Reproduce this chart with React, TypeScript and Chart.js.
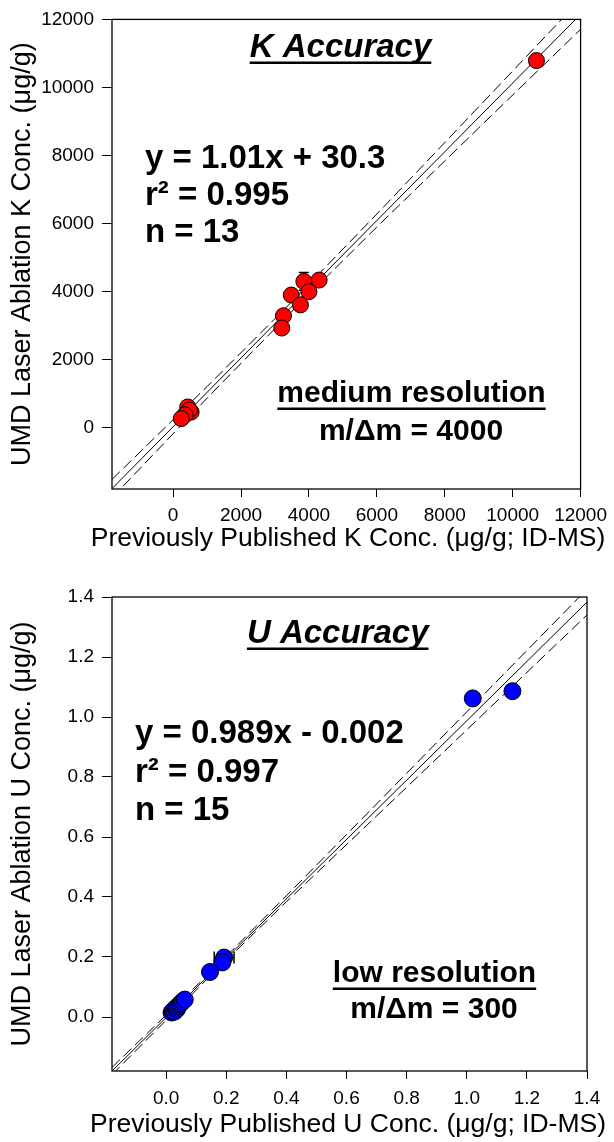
import React, { useEffect, useRef } from "react";
import { Chart, registerables } from "chart.js";

Chart.register(...registerables);

const FONT = "'Liberation Sans', Arial, Helvetica, sans-serif";

// ---------------- K panel data ----------------
const kPublished = [10700, 4300, 3850, 4000, 3480, 3750, 3250, 3200, 430, 530, 480, 350, 240];
const kLaser = [10790, 4340, 4300, 4000, 3900, 3610, 3290, 2930, 610, 460, 520, 380, 270];
const kLaserErr = [0, 0, 260, 0, 0, 0, 0, 0, 0, 0, 0, 0, 0];
const kPublishedErr = [0, 0, 0, 0, 0, 0, 0, 0, 0, 0, 0, 0, 0];
const kFitX = [-1800, 12000];
const kFitY = [-1788, 12150];
const kBandX = [-1800, 1000, 3500, 6000, 9000, 12000];
const kBandUpper = [-1518, 1210, 3705, 6280, 9430, 12590];
const kBandLower = [-2058, 870, 3425, 5900, 8810, 11710];
const kTicks = [0, 2000, 4000, 6000, 8000, 10000, 12000];
const kTickLabels = ["0", "2000", "4000", "6000", "8000", "10000", "12000"];
const kXTitle = "Previously Published K Conc. (\u03BCg/g; ID-MS)";
const kYTitle = "UMD Laser Ablation K Conc. (\u03BCg/g)";

// ---------------- U panel data ----------------
const uPublished = [1.02, 1.152, 0.193, 0.187, 0.146, 0.018, 0.022, 0.028, 0.032, 0.036, 0.04, 0.045, 0.05, 0.055, 0.062];
const uLaser = [1.062, 1.086, 0.198, 0.182, 0.15, 0.015, 0.02, 0.018, 0.03, 0.026, 0.035, 0.042, 0.046, 0.052, 0.058];
const uLaserErr = [0, 0, 0, 0, 0, 0, 0, 0, 0, 0, 0, 0, 0, 0, 0];
const uPublishedErr = [0, 0, 0.033, 0, 0, 0, 0, 0, 0, 0, 0, 0, 0, 0, 0];
const uFitX = [-0.18, 1.4];
const uFitY = [-0.18, 1.383];
const uBandX = [-0.18, 0.15, 0.4, 0.7, 1.0, 1.4];
const uBandUpper = [-0.168, 0.152, 0.404, 0.71, 1.017, 1.426];
const uBandLower = [-0.192, 0.14, 0.384, 0.67, 0.957, 1.34];
const uTicks = [0, 0.2, 0.4, 0.6, 0.8, 1.0, 1.2, 1.4];
const uTickLabels = ["0.0", "0.2", "0.4", "0.6", "0.8", "1.0", "1.2", "1.4"];
const uXTitle = "Previously Published U Conc. (\u03BCg/g; ID-MS)";
const uYTitle = "UMD Laser Ablation U Conc. (\u03BCg/g)";

type Ann = {
  text: string;
  x: number;
  y: number;
  font: string;
  align: CanvasTextAlign;
  underline?: { offset: number; thickness: number };
};

type PanelProps = {
  width: number;
  height: number;
  padTop: number;
  color: string;
  radius: number;
  xs: number[];
  ys: number[];
  xErr: number[];
  yErr: number[];
  fitX: number[];
  fitY: number[];
  bandX: number[];
  bandUpper: number[];
  bandLower: number[];
  min: number;
  max: number;
  ticks: number[];
  tickLabels: string[];
  yTitle: string;
  tickPadX: number;
  annotations: Ann[];
};

const pts = (xs: number[], ys: number[]) => xs.map((x, i) => ({ x, y: ys[i] }));

function makeConfig(p: PanelProps): any {
  const framePlugin = {
    id: "frame",
    afterDatasetsDraw(chart: any) {
      const { ctx, chartArea } = chart;
      ctx.save();
      ctx.strokeStyle = "#000";
      ctx.lineWidth = 1.3;
      ctx.strokeRect(chartArea.left, chartArea.top, chartArea.right - chartArea.left, chartArea.bottom - chartArea.top);
      ctx.restore();
    },
  };
  const errorPlugin = {
    id: "errorBars",
    beforeDatasetDraw(chart: any, args: any) {
      if (args.index !== 0) return;
      const { ctx, scales } = chart;
      const sx = scales.x;
      const sy = scales.y;
      ctx.save();
      ctx.strokeStyle = "#000";
      ctx.lineWidth = 1.5;
      p.xs.forEach((x, i) => {
        const y = p.ys[i];
        const cx = sx.getPixelForValue(x);
        const cy = sy.getPixelForValue(y);
        if (p.yErr[i]) {
          const t = sy.getPixelForValue(y + p.yErr[i]);
          const b = sy.getPixelForValue(y - p.yErr[i]);
          ctx.beginPath();
          ctx.moveTo(cx, t);
          ctx.lineTo(cx, b);
          ctx.moveTo(cx - 5, t);
          ctx.lineTo(cx + 5, t);
          ctx.moveTo(cx - 5, b);
          ctx.lineTo(cx + 5, b);
          ctx.stroke();
        }
        if (p.xErr[i]) {
          const l = sx.getPixelForValue(x - p.xErr[i]);
          const r = sx.getPixelForValue(x + p.xErr[i]);
          ctx.beginPath();
          ctx.moveTo(l, cy);
          ctx.lineTo(r, cy);
          ctx.moveTo(l, cy - 6);
          ctx.lineTo(l, cy + 6);
          ctx.moveTo(r, cy - 6);
          ctx.lineTo(r, cy + 6);
          ctx.stroke();
        }
      });
      ctx.restore();
    },
  };
  const textPlugin = {
    id: "annotations",
    afterDraw(chart: any) {
      const ctx = chart.ctx;
      ctx.save();
      ctx.fillStyle = "#000";
      ctx.textBaseline = "alphabetic";
      for (const a of p.annotations) {
        ctx.font = a.font;
        ctx.textAlign = a.align;
        ctx.fillText(a.text, a.x, a.y);
        if (a.underline) {
          const w = ctx.measureText(a.text).width;
          const x0 = a.align === "center" ? a.x - w / 2 : a.x;
          ctx.fillRect(x0, a.y + a.underline.offset, w, a.underline.thickness);
        }
      }
      ctx.restore();
    },
  };

  const lineDs = (label: string, xs: number[], ys: number[], dash: number[]) => ({
    label,
    data: pts(xs, ys),
    showLine: true,
    borderColor: "#000",
    backgroundColor: "#000",
    borderWidth: 1,
    borderDash: dash,
    pointRadius: 0,
    pointHoverRadius: 0,
    tension: 0,
    fill: false,
  });

  const tickCallback = (_v: any, i: number) => p.tickLabels[i];

  const axisCommon = {
    type: "linear",
    min: p.min,
    max: p.max,
    afterBuildTicks: (s: any) => {
      s.ticks = p.ticks.map((v) => ({ value: v }));
    },
    border: { display: false },
  };

  return {
    type: "scatter",
    data: {
      datasets: [
        {
          label: "samples",
          data: pts(p.xs, p.ys),
          backgroundColor: p.color,
          borderColor: "#000",
          borderWidth: 1,
          pointRadius: p.radius,
          pointHoverRadius: p.radius,
          showLine: false,
        },
        lineDs("fit", p.fitX, p.fitY, []),
        lineDs("upper", p.bandX, p.bandUpper, [11, 5]),
        lineDs("lower", p.bandX, p.bandLower, [11, 5]),
      ],
    },
    options: {
      responsive: false,
      animation: false,
      events: [],
      devicePixelRatio: 1,
      layout: { padding: { top: p.padTop, right: 27, left: 0, bottom: 0 } },
      plugins: { legend: { display: false }, tooltip: { enabled: false } },
      scales: {
        x: {
          ...axisCommon,
          position: "bottom",
          afterFit: (s: any) => {
            s.height = 71;
          },
          grid: { drawOnChartArea: false, drawTicks: true, tickLength: 8, color: "#000", lineWidth: 1 },
          ticks: {
            color: "#000",
            font: { family: FONT, size: 19 },
            padding: p.tickPadX,
            maxRotation: 0,
            autoSkip: false,
            callback: tickCallback,
          },
          title: { display: false },
        },
        y: {
          ...axisCommon,
          position: "left",
          afterFit: (s: any) => {
            s.width = 112;
          },
          grid: { drawOnChartArea: false, drawTicks: true, tickLength: 10, color: "#000", lineWidth: 1 },
          ticks: {
            color: "#000",
            font: { family: FONT, size: 19 },
            padding: 8,
            autoSkip: false,
            callback: tickCallback,
          },
          title: {
            display: true,
            text: p.yTitle,
            color: "#000",
            font: { family: FONT, size: 27 },
            padding: { top: 6, bottom: 0 },
          },
        },
      },
    },
    plugins: [framePlugin, errorPlugin, textPlugin],
  };
}

function Panel(props: PanelProps) {
  const ref = useRef<HTMLCanvasElement | null>(null);
  useEffect(() => {
    if (!ref.current) return;
    const chart = new Chart(ref.current, makeConfig(props));
    return () => chart.destroy();
  }, []);
  return (
    <canvas
      ref={ref}
      width={props.width}
      height={props.height}
      style={{ display: "block", width: props.width, height: props.height }}
    />
  );
}

const BOLD33 = `bold 33px ${FONT}`;
const BOLD30 = `bold 30px ${FONT}`;
const TITLE = `italic bold 33px ${FONT}`;
const AXIS_TITLE = `26.5px ${FONT}`;

const kAnnotations: Ann[] = [
  { text: "K Accuracy", x: 340.5, y: 57, font: TITLE, align: "center", underline: { offset: 4.5, thickness: 2.5 } },
  { text: "y = 1.01x + 30.3", x: 145, y: 168, font: BOLD33, align: "left" },
  { text: "r\u00B2 = 0.995", x: 145, y: 205, font: BOLD33, align: "left" },
  { text: "n = 13", x: 145, y: 242, font: BOLD33, align: "left" },
  { text: "medium resolution", x: 411.5, y: 402, font: BOLD30, align: "center", underline: { offset: 5.5, thickness: 2.5 } },
  { text: "m/\u0394m = 4000", x: 411, y: 440, font: BOLD30, align: "center" },
  { text: kXTitle, x: 348, y: 546, font: AXIS_TITLE, align: "center" },
];

const uAnnotations: Ann[] = [
  { text: "U Accuracy", x: 337.7, y: 83, font: TITLE, align: "center", underline: { offset: 4.5, thickness: 2.5 } },
  { text: "y = 0.989x - 0.002", x: 135, y: 183, font: BOLD33, align: "left" },
  { text: "r\u00B2 = 0.997", x: 135, y: 221.5, font: BOLD33, align: "left" },
  { text: "n = 15", x: 135, y: 260, font: BOLD33, align: "left" },
  { text: "low resolution", x: 434.5, y: 422, font: BOLD30, align: "center", underline: { offset: 5.5, thickness: 2.5 } },
  { text: "m/\u0394m = 300", x: 434, y: 458, font: BOLD30, align: "center" },
  { text: uXTitle, x: 348, y: 572, font: AXIS_TITLE, align: "center" },
];

export default function App() {
  return (
    <div style={{ position: "absolute", left: 0, top: 0, width: 614, height: 1142, background: "#fff" }}>
      <Panel
        width={614}
        height={560}
        padTop={15}
        color="#ff0000"
        radius={8}
        xs={kPublished}
        ys={kLaser}
        xErr={kPublishedErr}
        yErr={kLaserErr}
        fitX={kFitX}
        fitY={kFitY}
        bandX={kBandX}
        bandUpper={kBandUpper}
        bandLower={kBandLower}
        min={-1800}
        max={12000}
        ticks={kTicks}
        tickLabels={kTickLabels}
        yTitle={kYTitle}
        tickPadX={7}
        annotations={kAnnotations}
      />
      <Panel
        width={614}
        height={582}
        padTop={37}
        color="#0000ff"
        radius={8.5}
        xs={uPublished}
        ys={uLaser}
        xErr={uPublishedErr}
        yErr={uLaserErr}
        fitX={uFitX}
        fitY={uFitY}
        bandX={uBandX}
        bandUpper={uBandUpper}
        bandLower={uBandLower}
        min={-0.18}
        max={1.4}
        ticks={uTicks}
        tickLabels={uTickLabels}
        yTitle={uYTitle}
        tickPadX={8}
        annotations={uAnnotations}
      />
    </div>
  );
}
